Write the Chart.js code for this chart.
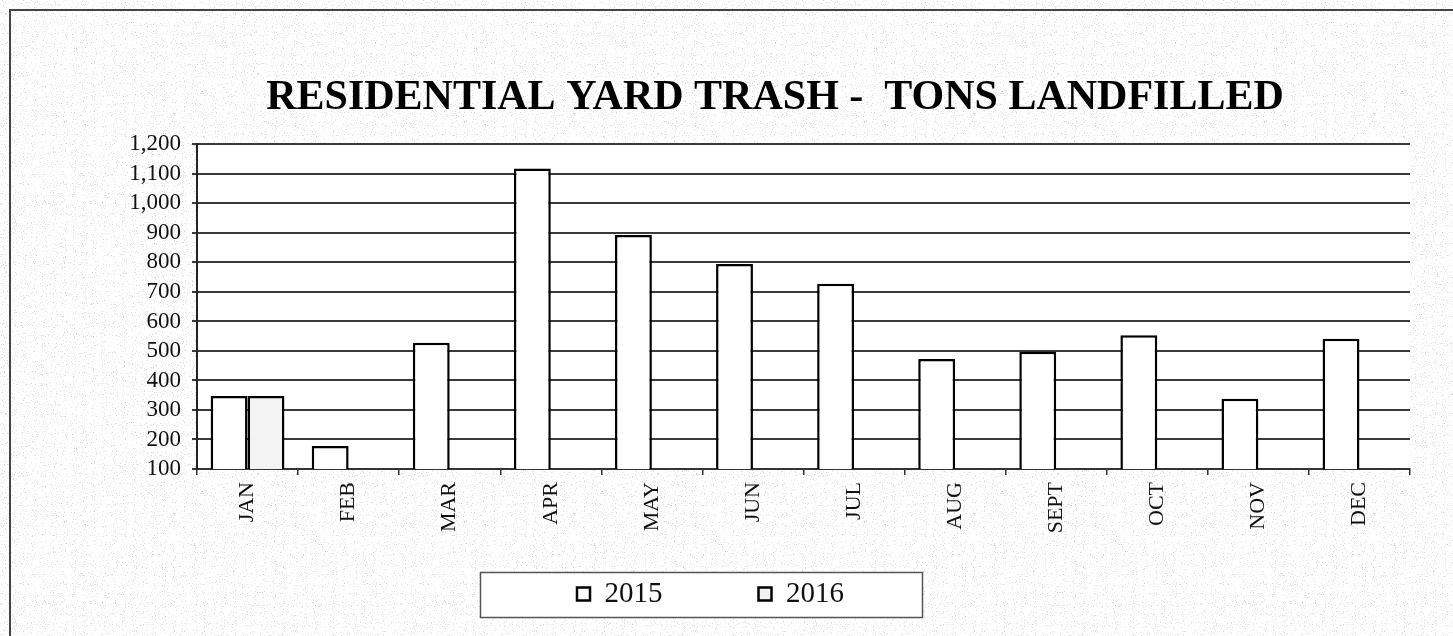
<!DOCTYPE html>
<html>
<head>
<meta charset="utf-8">
<script src="https://cdn.jsdelivr.net/npm/chart.js@4.4.1/dist/chart.umd.min.js"></script>
<style>
html,body{margin:0;padding:0;background:#fff;overflow:hidden}
#wrap{position:relative;width:1453px;height:636px;background-color:#fff;
background-image:url("data:image/svg+xml,%3Csvg xmlns='http://www.w3.org/2000/svg' width='400' height='400'%3E%3Cfilter id='n'%3E%3CfeTurbulence type='fractalNoise' baseFrequency='0.9' numOctaves='2' seed='3'/%3E%3CfeColorMatrix values='0 0 0 0 0.6 0 0 0 0 0.6 0 0 0 0 0.6 0 0 0 -4 1.6'/%3E%3C/filter%3E%3Crect width='100%25' height='100%25' filter='url(%23n)'/%3E%3C/svg%3E");}
#frame{position:absolute;left:9px;top:9px;right:-5px;bottom:-5px;border-top:2px solid #444;border-left:2px solid #444;pointer-events:none}
canvas{position:absolute;left:0;top:0}
</style>
</head>
<body>
<div id="wrap"><canvas id="c" width="1453" height="636"></canvas><div id="frame"></div></div>
<script>
const categories = ['JAN','FEB','MAR','APR','MAY','JUN','JUL','AUG','SEPT','OCT','NOV','DEC'];
const values2015 = [347, 178, 528, 1118, 893, 795, 728, 473, 497, 553, 338, 541];
const values2016 = [347, null, null, null, null, null, null, null, null, null, null, null];
const seriesNames = ['2015', '2016'];
const yMin = 100, yMax = 1200, yStep = 100;
const titleText = 'RESIDENTIAL YARD TRASH -  TONS LANDFILLED';

const serif = "'Liberation Serif', 'Times New Roman', serif";

const customPlugin = {
  id: 'customLook',
  afterLayout(chart) {
    const tb = chart.titleBlock;
    if (tb) { tb.left += 20; tb.right += 20; }
    const lg = chart.legend;
    if (!lg || !lg.lineWidths) return;
    const pad = lg.options.labels.padding;
    const start = (lg.left + pad + lg.right - lg.lineWidths[0]) / 2;
    const dx = 577 - start;
    lg.left += dx; lg.right += dx;
    const ih = (lg.legendHitBoxes && lg.legendHitBoxes[0]) ? lg.legendHitBoxes[0].height : 27;
    lg.top = 594 - ih / 2 - pad;
  },
  beforeDraw(chart) {
    const {ctx, chartArea: a} = chart;
    ctx.save();
    ctx.fillStyle = '#ffffff';
    ctx.fillRect(a.left, a.top, a.right - a.left, a.bottom - a.top);
    ctx.fillRect(480, 572, 442, 45);
    ctx.restore();
  },
  afterDraw(chart) {
    const {ctx} = chart;
    ctx.save();
    ctx.strokeStyle = '#555';
    ctx.lineWidth = 1.5;
    ctx.strokeRect(480.5, 572.5, 442, 45);
    ctx.restore();
  }
};

new Chart(document.getElementById('c'), {
  type: 'bar',
  data: {
    labels: categories,
    datasets: [
      { label: seriesNames[0], data: values2015, backgroundColor: '#ffffff', borderColor: '#000', borderWidth: 2.5 },
      { label: seriesNames[1], data: values2016, backgroundColor: '#f3f3f3', borderColor: '#000', borderWidth: 2.5 }
    ]
  },
  options: {
    responsive: false,
    animation: false,
    devicePixelRatio: 1,
    layout: { padding: { left: 100, right: 43, top: 0, bottom: 19 } },
    datasets: { bar: { categoryPercentage: 0.73, barPercentage: 1.0 } },
    scales: {
      x: {
        type: 'category',
        offset: true,
        afterFit(scale) { scale.height = 103; },
        grid: { display: true, offset: true, drawOnChartArea: false, drawTicks: true, tickLength: 6, color: '#333', lineWidth: 1.5 },
        border: { display: true, color: '#333', width: 2 },
        ticks: { maxRotation: 90, minRotation: 90, autoSkip: false, padding: 7, color: '#111', font: { family: serif, size: 22 } }
      },
      y: {
        min: yMin, max: yMax,
        afterFit(scale) { scale.width = 97; },
        grid: { color: '#3a3a3a', lineWidth: 2, drawTicks: true, tickLength: 5 },
        border: { display: true, color: '#222', width: 2 },
        ticks: { stepSize: yStep, autoSkip: false, padding: 11, color: '#111', font: { family: serif, size: 23 },
          callback: v => Number(v).toLocaleString('en-US') }
      }
    },
    plugins: {
      title: { display: true, text: titleText, color: '#000',
        font: { family: serif, size: 42, weight: 'bold', lineHeight: 1.2 },
        padding: { top: 73, bottom: 21 } },
      legend: {
        display: true, position: 'bottom', maxHeight: 45,
        labels: { boxWidth: 13, boxHeight: 13, padding: 96, color: '#111', font: { family: serif, size: 29 } }
      },
      tooltip: { enabled: false }
    }
  },
  plugins: [customPlugin]
});
</script>
</body>
</html>
